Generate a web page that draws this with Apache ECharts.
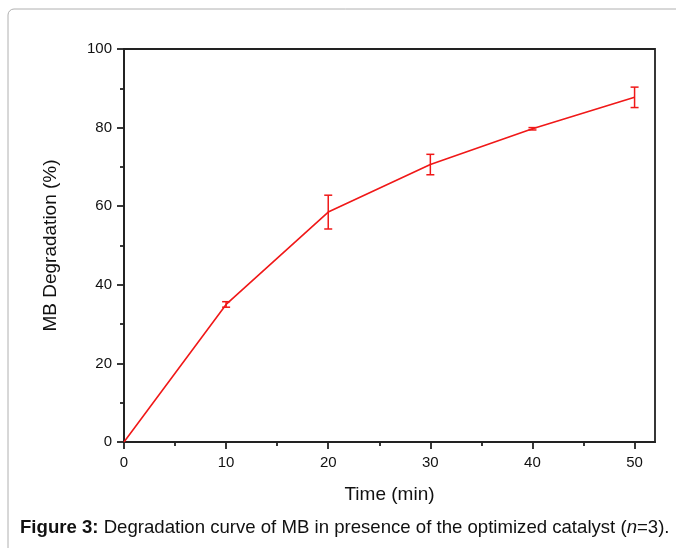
<!DOCTYPE html>
<html>
<head>
<meta charset="utf-8">
<script src="https://cdn.jsdelivr.net/npm/echarts@6/dist/echarts.min.js"></script>
<style>
html,body{margin:0;padding:0;background:#fff;}
#chart{width:676px;height:548px;}
</style>
</head>
<body>
<div id="chart"></div>
<script>
// Data
var times = [0, 10, 20, 30, 40, 50];
var degradation = [0, 35.0, 58.5, 70.6, 79.7, 87.7];
var errors = [0, 0.7, 4.3, 2.6, 0.3, 2.6];
var xMajorTicks = [0, 10, 20, 30, 40, 50];
var xMinorTicks = [5, 15, 25, 35, 45];
var xTitle = 'Time (min)';
var yTitle = 'MB Degradation (%)';

var lineData = times.map(function (t, i) { return [t, degradation[i]]; });
var errData = times.map(function (t, i) { return [t, degradation[i] - errors[i], degradation[i] + errors[i]]; })
  .filter(function (d, i) { return errors[i] > 0; });

var red = '#f01818';
var axisColor = '#222';
var font = 'Liberation Sans, Arial, Helvetica, sans-serif';

var chart = echarts.init(document.getElementById('chart'), null, {renderer: 'canvas'});
chart.setOption({
  animation: false,
  backgroundColor: '#fff',
  grid: {left: 124, top: 49, right: 21, bottom: 106, show: true, borderColor: axisColor, borderWidth: 1.8, backgroundColor: 'transparent'},
  xAxis: [{
    type: 'value', min: 0, max: 52, position: 'bottom',
    name: xTitle, nameLocation: 'middle', nameGap: 43,
    nameTextStyle: {fontFamily: font, fontSize: 19, color: '#111'},
    axisLine: {show: true, lineStyle: {color: axisColor, width: 1.8}},
    axisTick: {show: true, inside: false, length: 7, lineStyle: {color: axisColor, width: 1.8}, customValues: xMajorTicks},
    axisLabel: {fontFamily: font, fontSize: 15, color: '#111', margin: 13, customValues: xMajorTicks},
    splitLine: {show: false}
  }, {
    type: 'value', min: 0, max: 52, position: 'bottom',
    axisLine: {show: false},
    axisTick: {show: true, inside: false, length: 4, lineStyle: {color: axisColor, width: 1.8}, customValues: xMinorTicks},
    axisLabel: {show: false},
    splitLine: {show: false}
  }],
  yAxis: {
    type: 'value', min: 0, max: 100, interval: 20,
    name: yTitle, nameLocation: 'middle', nameGap: 64, nameRotate: 90,
    nameTextStyle: {fontFamily: font, fontSize: 19, color: '#111'},
    axisLine: {show: true, lineStyle: {color: axisColor, width: 1.8}},
    axisTick: {show: true, inside: false, length: 7, lineStyle: {color: axisColor, width: 1.8}},
    minorTick: {show: true, splitNumber: 2, length: 4, lineStyle: {color: axisColor, width: 1.8}},
    axisLabel: {fontFamily: font, fontSize: 15, color: '#111', margin: 12},
    splitLine: {show: false}
  },
  series: [{
    type: 'line', data: lineData, xAxisIndex: 0, showSymbol: false, symbol: 'none',
    lineStyle: {color: red, width: 1.6}, itemStyle: {color: red}, z: 3
  }, {
    type: 'custom', xAxisIndex: 0, data: errData, z: 4,
    renderItem: function (params, api) {
      var x = api.value(0);
      var lo = api.coord([x, api.value(1)]);
      var hi = api.coord([x, api.value(2)]);
      var hw = 4;
      var st = {stroke: red, lineWidth: 1.5, fill: null};
      return {type: 'group', children: [
        {type: 'line', shape: {x1: lo[0], y1: lo[1], x2: hi[0], y2: hi[1]}, style: st},
        {type: 'line', shape: {x1: lo[0] - hw, y1: lo[1], x2: lo[0] + hw, y2: lo[1]}, style: st},
        {type: 'line', shape: {x1: hi[0] - hw, y1: hi[1], x2: hi[0] + hw, y2: hi[1]}, style: st}
      ]};
    }
  }],
  graphic: [{
    type: 'rect', silent: true, z: -1,
    shape: {x: 8, y: 9, width: 720, height: 620, r: 6},
    style: {fill: null, stroke: '#b0b0b0', lineWidth: 1}
  }, {
    type: 'text', left: 20, top: 518, silent: true,
    style: {
      text: '{b|Figure 3:} Degradation curve of MB in presence of the optimized catalyst ({i|n}=3).',
      fontFamily: font, fontSize: 18.6, fill: '#111',
      rich: {
        b: {fontWeight: 'bold', fontFamily: font, fontSize: 18.6, fill: '#111'},
        i: {fontStyle: 'italic', fontFamily: font, fontSize: 18.6, fill: '#111'}
      }
    }
  }]
});
</script>
</body>
</html>
